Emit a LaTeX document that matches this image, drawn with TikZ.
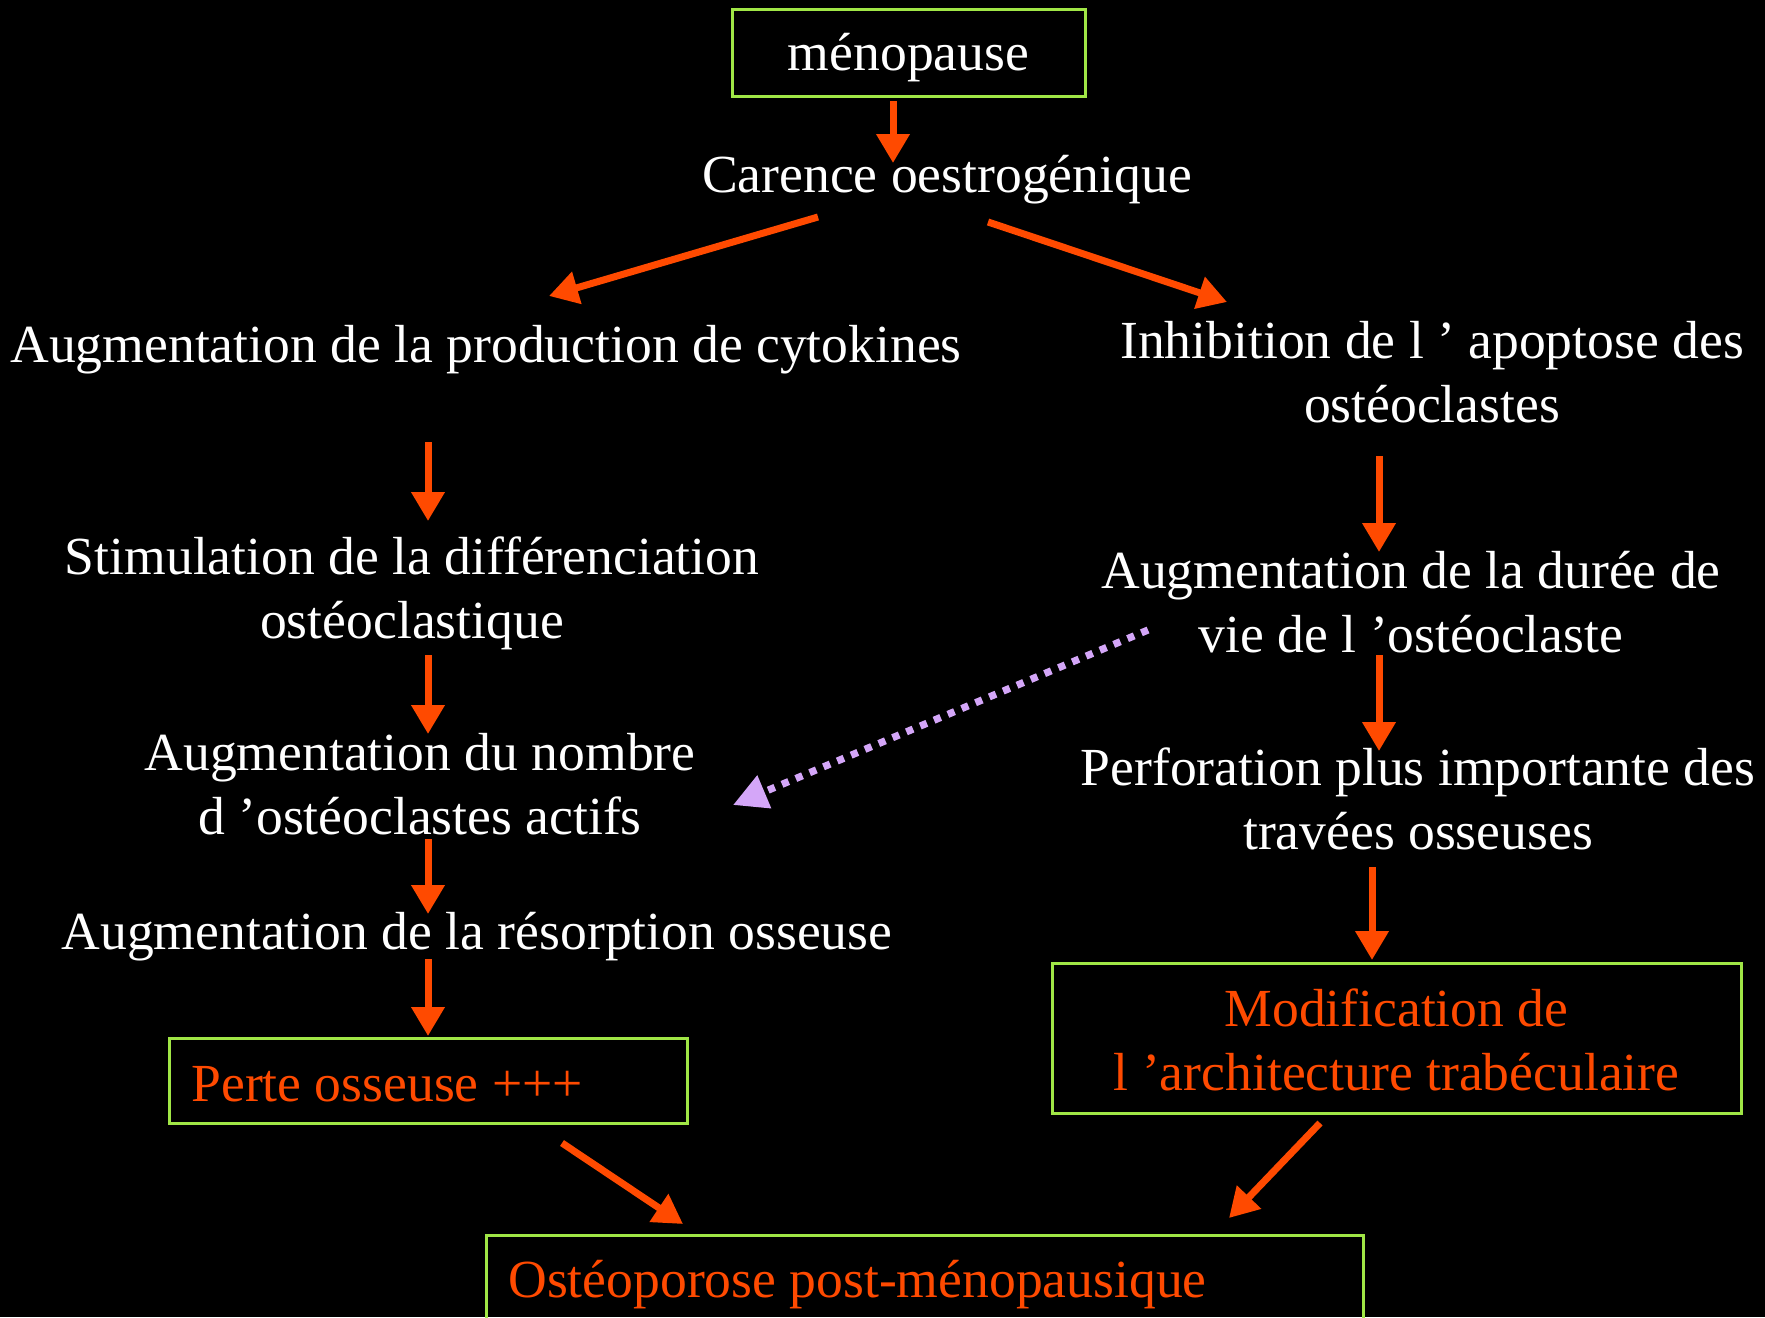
\documentclass[tikz,border=0pt]{standalone}
\usepackage{fontspec}
\setmainfont{Liberation Serif}
\usetikzlibrary{arrows.meta}
\definecolor{arrred}{RGB}{255,74,0}
\definecolor{boxgreen}{RGB}{160,230,70}
\definecolor{lav}{RGB}{212,166,248}
\begin{document}
\begin{tikzpicture}[x=0.5pt,y=-0.5pt,
  txt/.style={text=white,font=\fontsize{26.8}{32}\selectfont,align=center,inner sep=0pt},
  otxt/.style={text=arrred,font=\fontsize{26.8}{32}\selectfont,align=center,inner sep=0pt},
  gbox/.style={draw=boxgreen,line width=1.5pt,inner sep=0pt},
  arr/.style={draw=arrred,line width=3.5pt,-{Triangle[width=16pt,length=14.5pt]}},
  darr/.style={draw=lav,line width=3.6pt,dash pattern=on 3.6pt off 3.9pt,-{Triangle[width=17pt,length=17pt]}}]
\fill[black] (0,0) rectangle (1765,1317);
\useasboundingbox (0,0) rectangle (1765,1317);

% boxes
\node[gbox,minimum width=176.5pt,minimum height=43.5pt] (meno) at (908.5,52.5) {};
\node[gbox,minimum width=259pt,minimum height=42.5pt] (perte) at (428,1080.5) {};
\node[gbox,minimum width=344.5pt,minimum height=75pt] (modif) at (1396.5,1038) {};
\node[gbox,minimum width=438.5pt,minimum height=47.5pt] (osteo) at (924.5,1282.5) {};

% box texts
\node[txt] (menot) at (908.5,58) {ménopause};
\node[otxt,anchor=west] (pertet) at (191,1084) {Perte osseuse +++};
\node[otxt] (modift) at (1396.5,1040) {Modification de\\l ’architecture trabéculaire};
\node[otxt,anchor=west] (osteot) at (508,1285) {Ostéoporose post-ménopausique};

% text nodes
\node[txt] (carence) at (947,180) {Carence oestrogénique};
\node[txt] (cyto) at (486,350) {Augmentation de la production de cytokines};
\node[txt] (inhib) at (1432,372) {Inhibition de l ’ apoptose des\\ostéoclastes};
\node[txt] (stim) at (412,593) {Stimulation de la différenciation\\ostéoclastique};
\node[txt] (duree) at (1411,602) {Augmentation de la durée de\\vie de l ’ostéoclaste};
\node[txt] (nombre) at (420,784.5) {Augmentation du nombre\\d ’ostéoclastes actifs};
\node[txt] (perfo) at (1418,799) {Perforation plus importante des\\travées osseuses};
\node[txt] (resorp) at (477,937) {Augmentation de la résorption osseuse};

% connector end points
\coordinate (a1s) at (893,101); \coordinate (a1e) at (893,163);
\coordinate (a2s) at (818,217); \coordinate (a2e) at (549,296);
\coordinate (a3s) at (988,222); \coordinate (a3e) at (1227,302);
\coordinate (l1s) at (428,442); \coordinate (l1e) at (428,521);
\coordinate (l2s) at (428,655); \coordinate (l2e) at (428,734);
\coordinate (l3s) at (428,839); \coordinate (l3e) at (428,914);
\coordinate (l4s) at (428,959); \coordinate (l4e) at (428,1036);
\coordinate (r1s) at (1379,456); \coordinate (r1e) at (1379,552);
\coordinate (r2s) at (1379,655); \coordinate (r2e) at (1379,751);
\coordinate (r3s) at (1372,867); \coordinate (r3e) at (1372,960);
\coordinate (b1s) at (562,1143); \coordinate (b1e) at (683,1224);
\coordinate (b2s) at (1320,1123); \coordinate (b2e) at (1229,1218);
\coordinate (ds) at (1148,630); \coordinate (de) at (733,805);

\draw[arr] (a1s) -- (a1e);
\draw[arr] (a2s) -- (a2e);
\draw[arr] (a3s) -- (a3e);
\draw[arr] (l1s) -- (l1e);
\draw[arr] (l2s) -- (l2e);
\draw[arr] (l3s) -- (l3e);
\draw[arr] (l4s) -- (l4e);
\draw[arr] (r1s) -- (r1e);
\draw[arr] (r2s) -- (r2e);
\draw[arr] (r3s) -- (r3e);
\draw[arr] (b1s) -- (b1e);
\draw[arr] (b2s) -- (b2e);
\draw[darr] (ds) -- (de);
\end{tikzpicture}
\end{document}
